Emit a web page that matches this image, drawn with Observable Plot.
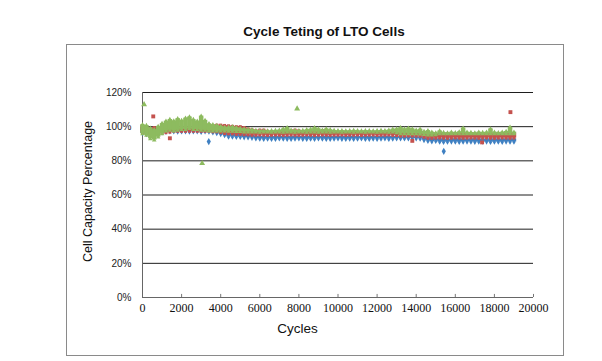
<!DOCTYPE html>
<html>
<head>
<meta charset="utf-8">
<script src="https://cdn.jsdelivr.net/npm/d3@7"></script>
<script src="https://cdn.jsdelivr.net/npm/@observablehq/plot@0.6"></script>
<style>
  html, body { margin: 0; padding: 0; background: #fff; }
  #chart { width: 602px; height: 361px; }
</style>
</head>
<body>
<div id="chart"></div>
<script>
// ---- Data (values in %) ----
const cycles = [0,200,400,600,800,1000,1200,1400,1600,1800,2000,2200,2400,2600,2800,3000,3200,3400,3600,3800,
  4000,4200,4400,4600,4800,5000,5200,5400,5600,5800,6000,6200,6400,6600,6800,7000,7200,7400,7600,7800,
  8000,8200,8400,8600,8800,9000,9200,9400,9600,9800,10000,10200,10400,10600,10800,11000,11200,11400,11600,11800,
  12000,12200,12400,12600,12800,13000,13200,13400,13600,13800,14000,14200,14400,14600,14800,15000,15200,15400,15600,15800,
  16000,16200,16400,16600,16800,17000,17200,17400,17600,17800,18000,18200,18400,18600,18800,19000];

// upper / lower edge of each series' dense band of markers
const blueHi = [99.5,98.5,98,98,98.5,98.5,98,98.2,98,98.1,98,98.2,98,98.1,98,98.2,98,97.9,97.5,97.3,
  97,96.5,96,96,95.8,95.5,95.3,95,94.8,94.4,94.3,94.2,94.4,94.3,94.2,94.4,94.3,94.3,94.2,94.4,
  94.3,94.2,94.3,94.4,94.3,94.2,94.3,94.4,94.3,94.2,94.3,94.3,94.2,94.4,94.3,94.2,94.3,94.4,94.3,94.2,
  94.3,94.3,94.4,94.3,94.2,94.3,94,94.1,94,94.2,94,94,93.5,93,93,92.8,92.9,92.8,92.7,92.8,
  92.9,92.8,92.8,92.7,92.8,92.9,92.8,92.7,92.8,92.9,92.8,92.8,92.7,92.8,92.9,92.8];
const blueLo = [96,95.5,95,95,96,96.5,96.8,97,97,96.9,97,97,96.9,97,97,96.8,97,96.9,96.5,96,
  95.5,94.8,94,94,93.8,93.8,93.6,93.5,93.3,92.9,92.8,92.6,92.8,92.7,92.6,92.9,92.8,92.7,92.6,92.8,
  92.9,92.7,92.6,92.8,92.7,92.9,92.8,92.6,92.7,92.8,92.9,92.7,92.6,92.8,92.7,92.8,92.9,92.7,92.6,92.8,
  92.7,92.8,92.9,92.7,92.8,93,93,92.9,93,93.1,93,92.8,92,91.5,91.2,91.5,91,90.9,91,91.1,
  91,90.9,91,91.1,91,90.9,91,91,91.1,90.9,91,91,90.9,91.1,91,91];

const redHi = [100.5,99.5,99,99.5,99.5,99.5,99,99,99,99,99,99,99,99,99,99,99,99,100.2,100.9,
  100.9,100.7,100.5,100.2,100,100,99.5,98.7,98.2,97.7,98,98,97.3,97,97,97,97,97,97.7,98,
  97.7,97,97,97,97,97,97.7,97.7,96.8,96.9,96.8,96.8,96.9,96.8,96.8,96.9,96.8,96.8,96.9,96.8,
  96.8,96.9,96.8,96.8,96.9,96.5,96.5,96.6,96.5,96.5,96.6,96.5,96,95.8,95.8,95.8,95.9,95.8,95.8,95.9,
  95.8,95.8,95.9,95.8,95.8,95.9,95.8,95.8,95.9,95.8,95.8,95.9,95.8,95.8,95.9,95.8];
const redLo = [96.5,96,95.5,95.5,96.5,96.3,96.5,96.8,97.3,97.3,97.3,97.3,97.3,97.3,97.3,97.3,97.3,97.3,97,97,
  96.5,96,95.8,95.8,95.5,95.5,95.3,95.2,95,95,95.1,95,94.9,95,95.1,95,94.9,95,95.1,95,
  94.9,95,95.1,95,94.9,95,95.1,95,94.9,95,95,95.1,94.9,95,95,95.1,94.9,95,95,95.1,
  94.9,95,95,95.1,94.9,94.8,94.5,94.5,94.6,94.5,94.5,94.4,93.8,93.2,93.2,93.3,93.4,93.3,93.2,93.3,
  93.4,93.3,93.2,93.3,93.4,93.3,93.2,93.3,93.4,93.3,93.2,93.3,93.4,93.3,93.2,93.3];

const greenHi = [101.2,100.7,99.2,98.2,100.2,101.9,103.2,104.2,103.4,104.7,103.7,105,105.7,104.2,103.2,106.2,103.7,101.7,101.2,100.7,
  100.2,99.7,99.7,100,99.5,99,98.7,98.4,98.2,97.8,97.6,97.6,97.5,97.6,97.8,98,98.7,99.5,98,97.8,
  97.6,97.8,98.2,98.5,99.4,98.7,98,98.7,98.2,97.8,97.6,97.7,97.5,97.6,97.8,97.6,97.5,97.7,97.6,97.5,
  97.6,97.8,97.7,98,98.5,98.7,99.5,98.7,99.2,98.7,98,98.5,97.2,97.7,96.8,96.3,97.5,96.6,96.3,96.8,
  96.5,97,99.2,96.8,96.6,96.3,96.8,96.6,96.8,98.7,96.8,96.5,96.8,97.2,99.7,96.8];
const greenLo = [95.8,94.8,92.8,92.1,93.8,95.8,97.3,97.8,97.3,97.8,98.3,98.3,98.8,98.3,98.3,97.8,97.8,97.3,97.3,97.3,
  97.3,97.3,97.2,97.2,97,97,96.8,96.8,96.8,96.8,96.7,96.8,96.8,96.7,96.8,96.8,96.7,96.8,96.8,96.7,
  96.8,96.8,96.7,96.8,96.8,96.7,96.8,96.8,96.7,96.8,96.8,96.7,96.8,96.8,96.7,96.8,96.8,96.7,96.8,96.8,
  96.7,96.8,96.8,96.7,96.8,96.3,95.8,95.8,95.8,95.8,95.8,95.6,95.3,95,95,95.2,95.8,95.8,95.7,95.8,
  95.8,95.7,95.8,95.8,95.7,95.8,95.8,95.7,95.8,95.8,95.7,95.8,95.8,95.7,95.8,95.8];

// isolated outlier markers
const blueOutCycles = [3390, 15410];
const blueOutValues = [91.3, 85.6];
const redOutCycles = [550, 1400, 13800, 17370, 18820];
const redOutValues = [106, 93.2, 91.7, 90.8, 108.5];
const greenOutCycles = [80, 3050, 7910];
const greenOutValues = [113, 78.5, 110.5];

const xTicks = [0,2000,4000,6000,8000,10000,12000,14000,16000,18000,20000];
const yTicks = [0,20,40,60,80,100,120];
const gridTicks = [20,40,60,80,100,120];

const seriesColor = {blue: "#3f80c2", red: "#c4524e", green: "#8dbb5f"};
const seriesSymbol = {blue: "diamond", red: "square", green: "triangle"};

// ---- build tables ----
const band = (hi, lo, s) => cycles.map((c, i) => ({c, hi: hi[i], lo: lo[i], s}));
const outs = (cs, vs, s) => cs.map((c, i) => ({c, v: vs[i], s}));
const bands = {
  blue: band(blueHi, blueLo, "blue"),
  red: band(redHi, redLo, "red"),
  green: band(greenHi, greenLo, "green")
};
const outliers = {
  blue: outs(blueOutCycles, blueOutValues, "blue"),
  red: outs(redOutCycles, redOutValues, "red"),
  green: outs(greenOutCycles, greenOutValues, "green")
};

const seriesMarks = [];
for (const s of ["blue", "red", "green"]) {
  const col = seriesColor[s];
  const sym = seriesSymbol[s];
  seriesMarks.push(
    Plot.ruleX(bands[s], {x: "c", y1: "lo", y2: "hi", stroke: col, strokeWidth: 4.5}),
    Plot.dot(bands[s], {x: "c", y: "hi", fill: col, symbol: sym, r: 1.7}),
    Plot.dot(bands[s], {x: "c", y: "lo", fill: col, symbol: sym, r: 1.7}),
    Plot.dot(outliers[s], {x: "c", y: "v", fill: col, symbol: sym, r: 2.2})
  );
}

const chart = Plot.plot({
  width: 602,
  height: 361,
  marginLeft: 142,
  marginRight: 69,
  marginTop: 92,
  marginBottom: 64,
  style: {background: "#fff", overflow: "visible"},
  x: {domain: [0, 20000]},
  y: {domain: [0, 120]},
  marks: [
    Plot.ruleY(gridTicks, {stroke: "#1e1e1e", strokeWidth: 1}),
    Plot.ruleX([0], {y1: 0, y2: 120, stroke: "#666"}),
    Plot.ruleY([0], {stroke: "#666"}),
    Plot.ruleX(xTicks.slice(1), {y1: 0, y2: 1.8, stroke: "#777"}),
    ...seriesMarks,
    Plot.axisX({ticks: xTicks, tickSize: 0, tickPadding: 6, tickFormat: d => String(d), label: null,
      fontSize: 12, fontFamily: "'Liberation Serif', serif", fill: "#111"}),
    Plot.axisY({ticks: yTicks, tickSize: 0, tickPadding: 11, tickFormat: d => d + "%", label: null,
      fontSize: 10, fontFamily: "'Liberation Sans', sans-serif", fill: "#222"})
  ]
});

document.getElementById("chart").appendChild(chart);

const svg = d3.select(chart);
svg.insert("rect", ":first-child")
  .attr("x", 66.5).attr("y", 44.5).attr("width", 497).attr("height", 311)
  .attr("fill", "none").attr("stroke", "#8a8a8a").attr("stroke-width", 1);
svg.append("text")
  .attr("x", 324).attr("y", 36).attr("text-anchor", "middle")
  .style("font", "bold 13.5px 'Liberation Sans', Arial, sans-serif").attr("fill", "#111")
  .text("Cycle Teting of LTO Cells");
svg.append("text")
  .attr("transform", "translate(92,191.5) rotate(-90)").attr("text-anchor", "middle")
  .style("font", "12.5px 'Liberation Sans', Arial, sans-serif").attr("fill", "#111")
  .text("Cell Capacity Percentage");
svg.append("text")
  .attr("x", 297.5).attr("y", 333).attr("text-anchor", "middle")
  .style("font", "13.5px 'Liberation Sans', Arial, sans-serif").attr("fill", "#111")
  .text("Cycles");
</script>
</body>
</html>
